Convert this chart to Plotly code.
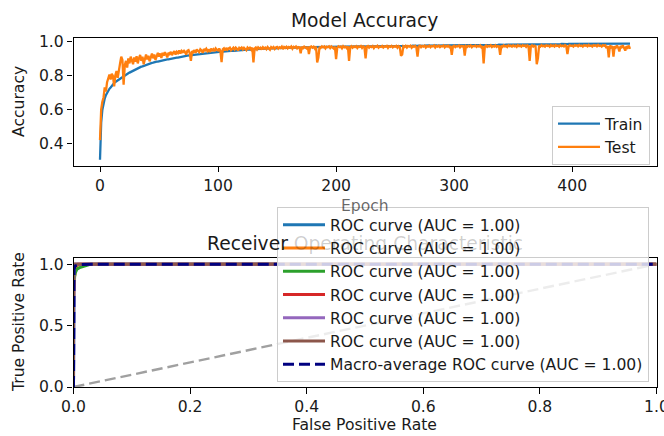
import plotly.graph_objects as go

# ---------------- data ----------------
train_acc = [
    0.305, 0.522, 0.598, 0.638, 0.664, 0.684, 0.699, 0.710, 0.721, 0.729,
    0.740, 0.748, 0.755, 0.761, 0.766, 0.772, 0.776, 0.781, 0.785, 0.790,
    0.794, 0.799, 0.803, 0.808, 0.812, 0.816, 0.820, 0.824, 0.828, 0.831,
    0.835, 0.838, 0.841, 0.845, 0.847, 0.851, 0.853, 0.856, 0.859, 0.861,
    0.864, 0.866, 0.869, 0.870, 0.873, 0.874, 0.877, 0.878, 0.880, 0.881,
    0.883, 0.885, 0.886, 0.888, 0.889, 0.891, 0.892, 0.894, 0.894, 0.896,
    0.897, 0.899, 0.899, 0.901, 0.902, 0.904, 0.904, 0.906, 0.907, 0.909,
    0.910, 0.911, 0.912, 0.914, 0.915, 0.916, 0.916, 0.918, 0.919, 0.920,
    0.921, 0.922, 0.923, 0.924, 0.924, 0.926, 0.926, 0.927, 0.928, 0.929,
    0.930, 0.931, 0.931, 0.933, 0.933, 0.934, 0.934, 0.935, 0.936, 0.936,
    0.937, 0.938, 0.938, 0.939, 0.939, 0.940, 0.941, 0.941, 0.942, 0.942,
    0.943, 0.943, 0.944, 0.945, 0.944, 0.946, 0.946, 0.947, 0.947, 0.948,
    0.948, 0.949, 0.949, 0.950, 0.949, 0.951, 0.951, 0.952, 0.951, 0.953,
    0.953, 0.953, 0.954, 0.954, 0.955, 0.954, 0.956, 0.955, 0.956, 0.957,
    0.956, 0.957, 0.958, 0.957, 0.958, 0.959, 0.958, 0.959, 0.960, 0.959,
    0.960, 0.960, 0.961, 0.960, 0.961, 0.962, 0.961, 0.962, 0.962, 0.963,
    0.962, 0.963, 0.963, 0.962, 0.963, 0.963, 0.964, 0.963, 0.964, 0.964,
    0.963, 0.964, 0.964, 0.965, 0.964, 0.964, 0.965, 0.965, 0.964, 0.965,
    0.965, 0.966, 0.965, 0.965, 0.966, 0.965, 0.966, 0.966, 0.965, 0.966,
    0.966, 0.967, 0.966, 0.966, 0.967, 0.966, 0.967, 0.967, 0.966, 0.967,
    0.967, 0.968, 0.967, 0.967, 0.968, 0.967, 0.968, 0.968, 0.967, 0.968,
    0.968, 0.969, 0.968, 0.968, 0.969, 0.968, 0.969, 0.969, 0.968, 0.969,
    0.969, 0.970, 0.969, 0.969, 0.970, 0.969, 0.970, 0.970, 0.969, 0.970,
    0.970, 0.971, 0.970, 0.970, 0.971, 0.970, 0.971, 0.971, 0.970, 0.971,
    0.971, 0.972, 0.971, 0.971, 0.972, 0.971, 0.972, 0.972, 0.971, 0.972,
    0.972, 0.971, 0.972, 0.973, 0.972, 0.972, 0.973, 0.972, 0.973, 0.973,
    0.972, 0.973, 0.973, 0.972, 0.973, 0.974, 0.973, 0.973, 0.974, 0.973,
    0.974, 0.973, 0.974, 0.974, 0.973, 0.974, 0.975, 0.974, 0.974, 0.975,
    0.974, 0.975, 0.975, 0.974, 0.975, 0.975, 0.974, 0.975, 0.976, 0.975,
    0.975, 0.976, 0.975, 0.975, 0.976, 0.976, 0.975, 0.976, 0.976, 0.975,
    0.976, 0.977, 0.976, 0.976, 0.977, 0.976, 0.977, 0.977, 0.976, 0.977,
    0.977, 0.976, 0.977, 0.978, 0.977, 0.977, 0.978, 0.977, 0.977, 0.978,
    0.977, 0.978, 0.978, 0.977, 0.978, 0.978, 0.979, 0.978, 0.978, 0.979,
    0.978, 0.979, 0.979, 0.978, 0.979, 0.979, 0.978, 0.979, 0.980, 0.979,
    0.979, 0.980, 0.979, 0.979, 0.980, 0.980, 0.979, 0.980, 0.980, 0.979,
    0.980, 0.980, 0.981, 0.980, 0.980, 0.981, 0.980, 0.981, 0.981, 0.980,
    0.981, 0.981, 0.980, 0.981, 0.982, 0.981, 0.981, 0.982, 0.981, 0.981,
    0.982, 0.982, 0.981, 0.982, 0.982, 0.981, 0.982, 0.983, 0.982, 0.982,
    0.983, 0.982, 0.982, 0.983, 0.983, 0.982, 0.983, 0.983, 0.982, 0.983,
    0.983, 0.984, 0.983, 0.983, 0.984, 0.983, 0.983, 0.984, 0.984, 0.983,
    0.984, 0.984, 0.983, 0.984, 0.984, 0.985, 0.984, 0.984, 0.985, 0.984,
    0.984, 0.985, 0.985, 0.984, 0.985, 0.985, 0.984, 0.985, 0.986, 0.985,
    0.985, 0.985, 0.986, 0.985, 0.985, 0.986, 0.985, 0.986, 0.986, 0.985,
    0.986, 0.986, 0.985, 0.986, 0.986, 0.987, 0.986, 0.986, 0.987, 0.986,
    0.986, 0.987, 0.986, 0.986, 0.987, 0.987, 0.986, 0.987, 0.987, 0.986,
]

test_acc = [
    0.420, 0.600, 0.645, 0.670, 0.730, 0.705, 0.760, 0.790, 0.805, 0.775,
    0.810, 0.795, 0.735, 0.800, 0.825, 0.785, 0.845, 0.870, 0.910, 0.890,
    0.745, 0.860, 0.885, 0.845, 0.900, 0.870, 0.910, 0.885, 0.865, 0.905,
    0.880, 0.912, 0.870, 0.900, 0.920, 0.885, 0.910, 0.865, 0.900, 0.922,
    0.893, 0.915, 0.882, 0.912, 0.928, 0.900, 0.922, 0.890, 0.918, 0.932,
    0.910, 0.928, 0.902, 0.932, 0.915, 0.936, 0.922, 0.905, 0.933, 0.925,
    0.938, 0.918, 0.933, 0.942, 0.922, 0.938, 0.930, 0.946, 0.928, 0.942,
    0.932, 0.948, 0.936, 0.922, 0.944, 0.948, 0.930, 0.885, 0.942, 0.936,
    0.948, 0.932, 0.952, 0.942, 0.936, 0.953, 0.946, 0.932, 0.954, 0.946,
    0.956, 0.942, 0.952, 0.936, 0.957, 0.946, 0.953, 0.941, 0.958, 0.950,
    0.946, 0.957, 0.942, 0.878, 0.952, 0.958, 0.946, 0.961, 0.951, 0.958,
    0.962, 0.947, 0.957, 0.962, 0.951, 0.963, 0.956, 0.946, 0.962, 0.957,
    0.963, 0.952, 0.962, 0.957, 0.947, 0.963, 0.956, 0.962, 0.951, 0.963,
    0.876, 0.957, 0.963, 0.952, 0.964, 0.957, 0.962, 0.951, 0.965, 0.957,
    0.963, 0.954, 0.966, 0.958, 0.950, 0.965, 0.959, 0.966, 0.955, 0.964,
    0.967, 0.957, 0.965, 0.960, 0.968, 0.954, 0.966, 0.961, 0.968, 0.958,
    0.966, 0.962, 0.969, 0.956, 0.967, 0.963, 0.969, 0.958, 0.966, 0.964,
    0.930, 0.968, 0.960, 0.969, 0.965, 0.958, 0.968, 0.925, 0.966, 0.970,
    0.962, 0.968, 0.957, 0.969, 0.876, 0.905, 0.967, 0.961, 0.970, 0.964,
    0.969, 0.958, 0.968, 0.965, 0.970, 0.960, 0.969, 0.963, 0.957, 0.968,
    0.895, 0.962, 0.970, 0.965, 0.969, 0.959, 0.971, 0.964, 0.968, 0.960,
    0.970, 0.885, 0.966, 0.971, 0.962, 0.969, 0.965, 0.971, 0.960, 0.969,
    0.966, 0.972, 0.961, 0.970, 0.965, 0.900, 0.969, 0.972, 0.962, 0.970,
    0.966, 0.972, 0.960, 0.970, 0.967, 0.973, 0.962, 0.969, 0.966, 0.972,
    0.963, 0.970, 0.968, 0.973, 0.961, 0.971, 0.967, 0.973, 0.964, 0.970,
    0.968, 0.973, 0.962, 0.971, 0.966, 0.915, 0.922, 0.971, 0.966, 0.973,
    0.963, 0.972, 0.968, 0.974, 0.962, 0.971, 0.967, 0.973, 0.964, 0.910,
    0.970, 0.974, 0.965, 0.972, 0.968, 0.974, 0.963, 0.971, 0.968, 0.974,
    0.965, 0.972, 0.969, 0.975, 0.963, 0.972, 0.968, 0.974, 0.966, 0.972,
    0.969, 0.975, 0.964, 0.972, 0.968, 0.974, 0.966, 0.972, 0.920, 0.970,
    0.974, 0.966, 0.972, 0.969, 0.975, 0.964, 0.972, 0.969, 0.975, 0.915,
    0.971, 0.966, 0.974, 0.969, 0.975, 0.965, 0.972, 0.970, 0.975, 0.967,
    0.973, 0.969, 0.976, 0.965, 0.972, 0.870, 0.968, 0.975, 0.967, 0.973,
    0.970, 0.976, 0.966, 0.973, 0.969, 0.976, 0.967, 0.972, 0.970, 0.920,
    0.974, 0.967, 0.976, 0.970, 0.973, 0.966, 0.976, 0.971, 0.974, 0.968,
    0.976, 0.970, 0.974, 0.967, 0.977, 0.971, 0.974, 0.968, 0.976, 0.972,
    0.975, 0.967, 0.976, 0.971, 0.885, 0.970, 0.976, 0.968, 0.974, 0.971,
    0.865, 0.900, 0.975, 0.969, 0.977, 0.971, 0.974, 0.968, 0.976, 0.972,
    0.975, 0.968, 0.977, 0.971, 0.975, 0.969, 0.977, 0.972, 0.975, 0.968,
    0.977, 0.971, 0.974, 0.969, 0.977, 0.972, 0.925, 0.970, 0.977, 0.972,
    0.975, 0.969, 0.977, 0.973, 0.976, 0.970, 0.978, 0.972, 0.975, 0.969,
    0.977, 0.973, 0.976, 0.970, 0.978, 0.972, 0.975, 0.969, 0.977, 0.973,
    0.976, 0.970, 0.978, 0.972, 0.975, 0.969, 0.977, 0.973, 0.976, 0.960,
    0.972, 0.905, 0.975, 0.965, 0.972, 0.910, 0.970, 0.963, 0.975, 0.962,
    0.940, 0.972, 0.965, 0.975, 0.958, 0.945, 0.970, 0.962, 0.974, 0.955,
]
epochs = list(range(len(train_acc)))

# ROC curves (one per class)
roc_fpr = [
    [0.0, 0.0, 0.001, 0.003, 1.0],
    [0.0, 0.0, 0.002, 0.004, 0.008, 1.0],
    [0.0, 0.0, 0.003, 0.006, 0.012, 0.020, 0.030, 1.0],
    [0.0, 0.0, 0.002, 1.0],
    [0.0, 0.0, 0.001, 1.0],
    [0.0, 0.0, 0.002, 1.0],
]
roc_tpr = [
    [0.0, 0.93, 0.98, 1.0, 1.0],
    [0.0, 0.70, 0.90, 0.96, 1.0, 1.0],
    [0.0, 0.85, 0.93, 0.96, 0.975, 0.985, 1.0, 1.0],
    [0.0, 0.95, 1.0, 1.0],
    [0.0, 0.97, 1.0, 1.0],
    [0.0, 0.96, 1.0, 1.0],
]
roc_auc = [1.00, 1.00, 1.00, 1.00, 1.00, 1.00]
macro_fpr = [0.0, 0.0, 0.001, 0.003, 0.008, 0.030, 1.0]
macro_tpr = [0.0, 0.88, 0.96, 0.985, 0.995, 1.0, 1.0]
macro_auc = 1.00
chance_x = [0.0, 1.0]
chance_y = [0.0, 1.0]

class_colors = ["#1f77b4", "#ff7f0e", "#2ca02c", "#d62728", "#9467bd", "#8c564b"]

# ---------------- figure ----------------
W, H = 664, 436
FONT = "DejaVu Sans"
TXT = "#1a1a1a"
FS = 15.6      # ticks, axis labels, legend
FT = 18.7      # titles

def px(x):
    return x / W

def py(y):
    return 1 - y / H

fig = go.Figure()

fig.add_trace(go.Scatter(x=epochs, y=train_acc, mode="lines", name="Train",
                         line=dict(color="#1f77b4", width=2.3), legend="legend",
                         xaxis="x", yaxis="y"))
fig.add_trace(go.Scatter(x=epochs, y=test_acc, mode="lines", name="Test",
                         line=dict(color="#ff7f0e", width=2.3), legend="legend",
                         xaxis="x", yaxis="y"))

fig.add_trace(go.Scatter(x=chance_x, y=chance_y, mode="lines", showlegend=False,
                         line=dict(color="rgba(128,128,128,0.75)", width=2.4, dash="11px,5px"),
                         xaxis="x2", yaxis="y2"))
for i in range(len(roc_fpr)):
    fig.add_trace(go.Scatter(x=roc_fpr[i], y=roc_tpr[i], mode="lines",
                             name=f"ROC curve (AUC = {roc_auc[i]:.2f})",
                             line=dict(color=class_colors[i], width=3),
                             legend="legend2", xaxis="x2", yaxis="y2"))
fig.add_trace(go.Scatter(x=macro_fpr, y=macro_tpr, mode="lines",
                         name=f"Macro-average ROC curve (AUC = {macro_auc:.2f})",
                         line=dict(color="#000080", width=3, dash="11px,5px"),
                         legend="legend2", xaxis="x2", yaxis="y2"))

axis_common = dict(showline=True, mirror=True, linecolor="black", linewidth=1.25,
                   ticks="outside", ticklen=5.5, tickwidth=1.25, tickcolor="black",
                   showgrid=False, zeroline=False, automargin=False,
                   ticklabeloverflow="allow",
                   tickfont=dict(family=FONT, size=FS, color=TXT))

L, R = 73.5, 656.5
legend_common = dict(bgcolor="rgba(255,255,255,0.8)", bordercolor="#cccccc", borderwidth=1,
                     itemwidth=42, font=dict(family=FONT, size=FS, color=TXT))
fig.update_layout(
    width=W, height=H,
    margin=dict(l=0, r=0, t=0, b=0),
    paper_bgcolor="white", plot_bgcolor="white",
    xaxis=dict(domain=[px(L), px(R)], range=[-22.45, 471.45],
               tickvals=[0, 100, 200, 300, 400], anchor="y", **axis_common),
    yaxis=dict(domain=[py(165.5), py(38)], range=[0.271, 1.019],
               tickvals=[0.4, 0.6, 0.8, 1.0], tickformat=".1f", anchor="x", **axis_common),
    xaxis2=dict(domain=[px(L), px(R)], range=[0, 1],
                tickvals=[0, 0.2, 0.4, 0.6, 0.8, 1.0], tickformat=".1f", anchor="y2", **axis_common),
    yaxis2=dict(domain=[py(387), py(258)], range=[0, 1.05],
                tickvals=[0, 0.5, 1.0], tickformat=".1f", anchor="x2", **axis_common),
    legend=dict(x=px(650), xanchor="right", y=py(106), yanchor="top", **legend_common),
    legend2=dict(x=px(649), xanchor="right", y=py(207), yanchor="top", **legend_common),
    font=dict(family=FONT, color=TXT),
)

ann = [
    dict(text="Model Accuracy", x=px(364.5), y=py(21), size=FT, angle=0, color=TXT),
    dict(text="Accuracy", x=px(19), y=py(102), size=FS, angle=-90, color=TXT),
    dict(text="Epoch", x=px(364.5), y=py(206), size=FS, angle=0, color="rgba(0,0,0,0.6)"),
    dict(text='Receiver <span style="color:rgba(0,0,0,0.2)">Operating Characteristic</span>',
         x=px(364.5), y=py(243), size=FT, angle=0, color=TXT),
    dict(text="True Positive Rate", x=px(19), y=py(322), size=FS, angle=-90, color=TXT),
    dict(text="False Positive Rate", x=px(364.5), y=py(425), size=FS, angle=0, color=TXT),
]
for a in ann:
    fig.add_annotation(text=a["text"], x=a["x"], y=a["y"], xref="paper", yref="paper",
                       xanchor="center", yanchor="middle", showarrow=False,
                       textangle=a["angle"],
                       font=dict(family=FONT, size=a["size"], color=a["color"]))

fig.write_html("out.html",
               config={"displayModeBar": False},
               post_script="document.body.style.margin='0px';"
                           "document.documentElement.style.overflow='hidden';")
